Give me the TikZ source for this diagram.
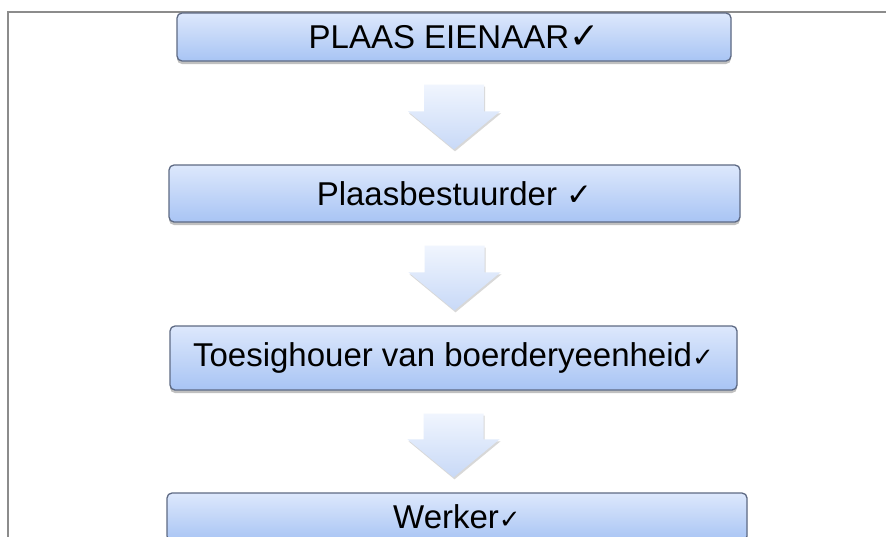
\documentclass[tikz,border=0pt]{standalone}
\usepackage{fontspec}
\setmainfont{Liberation Sans}
\newfontfamily\chk{DejaVu Sans}
\usetikzlibrary{calc,shadows}
\definecolor{frameclr}{HTML}{8C8C8C}
\definecolor{boxedge}{HTML}{5E6A84}
\definecolor{boxtop}{HTML}{DDE8FC}
\definecolor{boxbot}{HTML}{A8C4F4}
\definecolor{arrtop}{HTML}{F0F5FE}
\definecolor{arrbot}{HTML}{C8D9F7}
\tikzset{
  flowbox/.style={draw=boxedge, line width=1.3pt, rounded corners=5pt,
    top color=boxtop, bottom color=boxbot, inner sep=0pt,
    font=\fontsize{33}{38}\selectfont, text=black,
    drop shadow={shadow xshift=0pt, shadow yshift=-3pt, opacity=0.35, fill=black!70}},
  arrowfill/.style={top color=arrtop, bottom color=arrbot, draw=none,
    drop shadow={shadow xshift=1pt, shadow yshift=-2pt, opacity=0.25, fill=black!60}},
  frameline/.style={draw=frameclr, line width=2pt}
}
\newcommand\flowarrow[2]{%
  \path[arrowfill] let \p1=(#1.south), \p2=(#2.north) in
   (\x1-30pt,\y1-23pt) -- (\x1+30pt,\y1-23pt) -- (\x1+30pt,\y2+53pt)
   -- (\x1+46pt,\y2+53pt) -- (\x1,\y2+15pt) -- (\x1-46pt,\y2+53pt)
   -- (\x1-30pt,\y2+53pt) -- cycle;}
\begin{document}
\begin{tikzpicture}[x=1pt,y=-1pt]
\useasboundingbox (0,0) rectangle (886,536);
\fill[white] (0,0) rectangle (886,536);
\draw[frameline] (8,620) -- (8,12) -- (960,12);
\node[flowbox, minimum width=554pt, minimum height=48pt] (b1) at (454,37)
  {PLAAS EIENAAR{\chk\fontsize{36}{38}\selectfont ✓}};
\node[flowbox, minimum width=571pt, minimum height=57pt] (b2) at (454.5,193.5)
  {Plaasbestuurder {\chk\fontsize{31}{38}\selectfont ✓}};
\node[flowbox, minimum width=567pt, minimum height=64pt] (b3) at (453.5,358)
  {Toesighouer van boerderyeenheid{\chk\fontsize{26}{38}\selectfont ✓}};
\node[flowbox, minimum width=580pt, minimum height=48pt] (b4) at (457,517)
  {Werker{\chk\fontsize{26}{38}\selectfont ✓}};
\flowarrow{b1}{b2}
\flowarrow{b2}{b3}
\flowarrow{b3}{b4}
\end{tikzpicture}
\end{document}
